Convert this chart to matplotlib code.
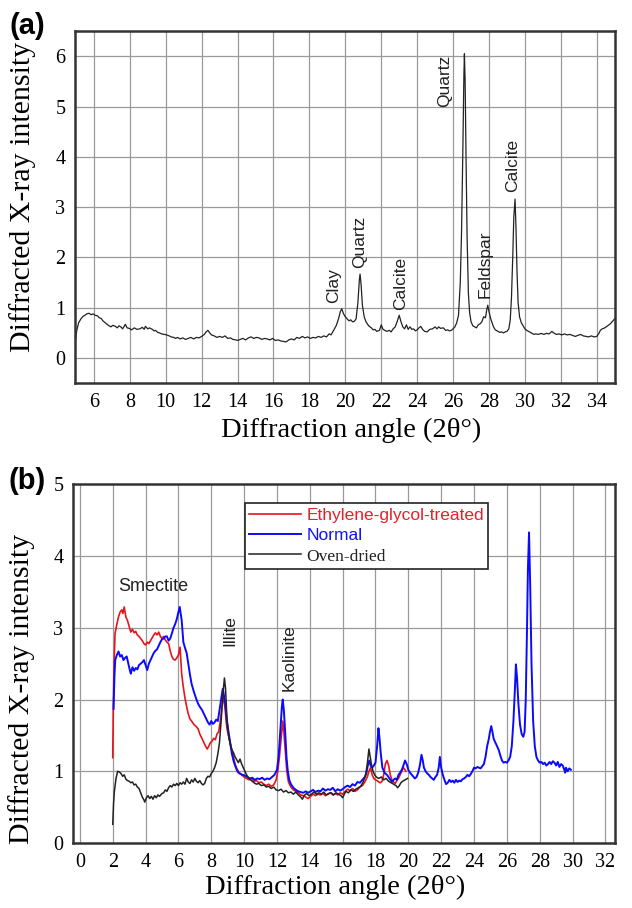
"""
XRD patterns: (a) bulk sample, (b) clay fraction under three treatments.
"""

import matplotlib
matplotlib.use("Agg")
import matplotlib.pyplot as plt

# (a) bulk powder pattern
bulk_angle = [
    4.95, 5.05, 5.15, 5.28, 5.4, 5.5, 5.62, 5.73, 5.85, 5.95, 6.07, 6.2, 6.3, 6.4, 6.5,
    6.6, 6.7, 6.85, 6.95, 7.05, 7.2, 7.3, 7.4, 7.5, 7.6, 7.75, 7.85, 7.97, 8.1, 8.25,
    8.4, 8.55, 8.7, 8.8, 8.87, 9.0, 9.1, 9.25, 9.35, 9.43, 9.55, 9.65, 9.77, 9.9, 10.05,
    10.2, 10.3, 10.45, 10.55, 10.66, 10.8, 10.95, 11.1, 11.25, 11.4, 11.56, 11.7, 11.85,
    12.0, 12.15, 12.25, 12.35, 12.45, 12.55, 12.7, 12.85, 13.0, 13.15, 13.3, 13.45, 13.6,
    13.75, 13.9, 14.0, 14.15, 14.3, 14.45, 14.6, 14.75, 14.9, 15.05, 15.2, 15.35, 15.5,
    15.65, 15.8, 15.95, 16.1, 16.27, 16.4, 16.55, 16.7, 16.85, 17.0, 17.15, 17.3, 17.45,
    17.6, 17.75, 17.9, 18.05, 18.2, 18.35, 18.5, 18.65, 18.8, 18.95, 19.1, 19.2, 19.35,
    19.5, 19.62, 19.72, 19.8, 19.9, 20.0, 20.1, 20.2, 20.3, 20.4, 20.5, 20.6, 20.7, 20.78,
    20.82, 20.88, 20.95, 21.05, 21.15, 21.3, 21.45, 21.55, 21.65, 21.75, 21.9, 22.0, 22.1,
    22.2, 22.3, 22.45, 22.55, 22.66, 22.78, 22.9, 23.0, 23.1, 23.2, 23.3, 23.4, 23.5, 23.6,
    23.7, 23.8, 23.9, 24.0, 24.1, 24.2, 24.3, 24.42, 24.56, 24.7, 24.85, 25.0, 25.1, 25.2,
    25.3, 25.46, 25.58, 25.7, 25.8, 25.9, 26.0, 26.1, 26.2, 26.3, 26.4, 26.47, 26.55, 26.6,
    26.63, 26.67, 26.72, 26.78, 26.85, 26.92, 27.0, 27.1, 27.2, 27.3, 27.4, 27.5, 27.6,
    27.7, 27.8, 27.87, 27.93, 28.0, 28.08, 28.15, 28.25, 28.35, 28.5, 28.6, 28.7, 28.8,
    28.9, 29.0, 29.1, 29.18, 29.25, 29.32, 29.38, 29.45, 29.5, 29.56, 29.62, 29.7, 29.8,
    29.9, 30.0, 30.1, 30.2, 30.35, 30.5, 30.6, 30.75, 30.9, 31.05, 31.2, 31.35, 31.5, 31.6,
    31.75, 31.9, 32.05, 32.2, 32.35, 32.5, 32.65, 32.8, 32.95, 33.1, 33.25, 33.4, 33.55,
    33.7, 33.85, 34.0, 34.1, 34.2, 34.3, 34.45, 34.6, 34.75, 34.9, 35.0,
]
bulk_intensity = [
    0.29, 0.55, 0.70, 0.78, 0.83, 0.85, 0.88, 0.89, 0.86, 0.88, 0.85, 0.84, 0.80, 0.79, 0.74,
    0.71, 0.68, 0.64, 0.62, 0.65, 0.63, 0.60, 0.64, 0.62, 0.58, 0.67, 0.60, 0.59, 0.56, 0.60,
    0.57, 0.58, 0.61, 0.57, 0.63, 0.58, 0.60, 0.57, 0.54, 0.55, 0.51, 0.50, 0.48, 0.47, 0.46,
    0.44, 0.42, 0.41, 0.39, 0.41, 0.38, 0.40, 0.37, 0.39, 0.41, 0.38, 0.41, 0.40,
    0.43, 0.47, 0.52, 0.55, 0.50, 0.46, 0.44, 0.41, 0.43, 0.41, 0.44, 0.39, 0.40,
    0.37, 0.36, 0.35, 0.37, 0.39, 0.36, 0.40, 0.42, 0.39, 0.41, 0.40, 0.37, 0.39,
    0.38, 0.36, 0.39, 0.35, 0.36, 0.34, 0.33, 0.32, 0.36, 0.38, 0.36, 0.41, 0.39,
    0.43, 0.40, 0.42, 0.39, 0.41, 0.40, 0.43, 0.41, 0.44, 0.42, 0.48, 0.46, 0.55,
    0.65, 0.78, 0.92, 0.98, 0.88, 0.82, 0.78, 0.74, 0.76, 0.72, 0.73, 0.78, 1.10, 1.55,
    1.67, 1.45, 1.05, 0.82, 0.72, 0.64, 0.60, 0.56, 0.57, 0.53, 0.55, 0.66, 0.57,
    0.55, 0.53, 0.55, 0.52, 0.58, 0.62, 0.74, 0.85, 0.72, 0.62, 0.58, 0.66, 0.57, 0.62,
    0.57, 0.58, 0.54, 0.56, 0.60, 0.63, 0.57, 0.53, 0.52, 0.57, 0.58, 0.62, 0.58, 0.62,
    0.59, 0.60, 0.55, 0.56, 0.54, 0.55, 0.58, 0.62, 0.70, 0.85, 1.5, 2.5, 4.3, 5.6,
    6.05, 5.5, 4.0, 2.4, 1.3, 0.9, 0.72, 0.64, 0.62, 0.60, 0.66, 0.68, 0.72,
    0.82, 0.80, 0.95, 1.05, 0.92, 0.80, 0.72, 0.62, 0.56, 0.53, 0.51, 0.52, 0.50,
    0.52, 0.53, 0.58, 0.75, 1.2, 2.0, 2.8, 3.16, 2.6, 1.7, 1.1, 0.82, 0.70,
    0.64, 0.58, 0.55, 0.53, 0.50, 0.47, 0.48, 0.47, 0.49, 0.47, 0.49, 0.48, 0.53, 0.50,
    0.47, 0.48, 0.46, 0.48, 0.46, 0.47, 0.45, 0.43, 0.45, 0.47, 0.44, 0.43, 0.42,
    0.44, 0.42, 0.43, 0.48, 0.55, 0.58, 0.60, 0.64, 0.68, 0.74, 0.78,
]
bulk_labels = ["Clay", "Quartz", "Calcite", "Quartz", "Feldspar", "Calcite"]
bulk_label_x = [19.36, 20.82, 23.06, 25.55, 27.77, 29.3]
bulk_label_y = [1.1, 1.79, 0.95, 5.0, 1.2, 3.3]

# (b) clay fraction, three treatments
glycol_angle = [
    2.0, 2.03, 2.08, 2.14, 2.25, 2.35, 2.45, 2.55, 2.62, 2.7, 2.8, 2.9, 3.0, 3.1, 3.2,
    3.3, 3.4, 3.5, 3.6, 3.7, 3.8, 3.9, 4.0, 4.1, 4.2, 4.3, 4.4, 4.5, 4.6, 4.7, 4.8, 4.9,
    5.0, 5.1, 5.2, 5.3, 5.4, 5.5, 5.6, 5.7, 5.8, 5.9, 6.0, 6.1, 6.15, 6.2, 6.3, 6.4, 6.5,
    6.6, 6.7, 6.8, 6.95, 7.1, 7.2, 7.3, 7.45, 7.55, 7.65, 7.75, 7.85, 7.95, 8.05, 8.15,
    8.25, 8.35, 8.45, 8.55, 8.65, 8.75, 8.85, 8.95, 9.05, 9.15, 9.25, 9.35, 9.45, 9.55,
    9.7, 9.85, 10.0, 10.15, 10.3, 10.45, 10.6, 10.75, 10.9, 11.05, 11.2, 11.35, 11.5,
    11.65, 11.8, 11.95, 12.05, 12.15, 12.25, 12.35, 12.42, 12.5, 12.6, 12.7, 12.85, 13.0,
    13.15, 13.3, 13.45, 13.6, 13.75, 13.9, 14.05, 14.2, 14.35, 14.5, 14.65, 14.8, 14.95,
    15.1, 15.25, 15.4, 15.55, 15.7, 15.85, 16.0, 16.15, 16.3, 16.45, 16.6, 16.75, 16.9,
    17.05, 17.2, 17.35, 17.5, 17.6, 17.7, 17.8, 17.9, 18.0, 18.1, 18.2, 18.3, 18.4, 18.5,
    18.6, 18.7, 18.8, 18.9, 19.0, 19.1, 19.2, 19.3, 19.4, 19.5, 19.6, 19.7, 19.8, 19.85,
]
glycol_intensity = [
    1.19, 1.85, 2.5, 2.92, 3.05, 3.15, 3.22, 3.25, 3.20, 3.29, 3.15, 3.10, 3.02, 2.94, 2.98,
    2.93, 2.95, 2.90, 2.88, 2.85, 2.82, 2.78, 2.76, 2.80, 2.78, 2.82, 2.86, 2.90, 2.93, 2.90,
    2.94, 2.88, 2.85, 2.88, 2.83, 2.80, 2.78, 2.68, 2.60, 2.56, 2.55, 2.58, 2.62, 2.73, 2.55,
    2.35, 2.17, 2.02, 1.90, 1.80, 1.73, 1.70, 1.65, 1.62, 1.59, 1.52, 1.45, 1.40, 1.35, 1.31,
    1.35, 1.40, 1.42, 1.46, 1.44, 1.52, 1.55, 1.70, 1.90, 2.05, 1.85, 1.60, 1.50, 1.40, 1.30,
    1.20, 1.10, 1.04, 0.98, 0.95, 0.92, 0.90, 0.88, 0.90, 0.86, 0.87, 0.84, 0.85, 0.82, 0.80,
    0.82, 0.79, 0.81, 0.88, 1.00, 1.20, 1.45, 1.70, 1.55, 1.30, 1.00, 0.85, 0.78, 0.74,
    0.72, 0.70, 0.67, 0.66, 0.64, 0.62, 0.65, 0.68, 0.66, 0.68, 0.67, 0.69, 0.66,
    0.68, 0.70, 0.67, 0.69, 0.67, 0.70, 0.68, 0.72, 0.75, 0.73, 0.76, 0.72, 0.74,
    0.78, 0.80, 0.85, 0.92, 1.00, 1.05, 0.95, 0.90, 0.88, 0.87, 0.85, 0.84, 0.86, 0.95,
    1.10, 1.15, 1.08, 0.95, 0.88, 0.85, 0.83, 0.87, 0.90, 0.95, 1.00, 1.05, 1.02, 1.00,
]

normal_angle = [
    2.05, 2.1, 2.15, 2.25, 2.35, 2.45, 2.55, 2.65, 2.75, 2.85, 2.95, 3.05, 3.1, 3.2, 3.3,
    3.4, 3.5, 3.6, 3.7, 3.8, 3.9, 4.0, 4.1, 4.2, 4.3, 4.4, 4.5, 4.6, 4.7, 4.8, 4.9, 5.0,
    5.1, 5.2, 5.3, 5.4, 5.5, 5.6, 5.7, 5.8, 5.9, 6.0, 6.08, 6.15, 6.2, 6.25, 6.3, 6.4, 6.5,
    6.6, 6.7, 6.8, 6.95, 7.1, 7.2, 7.3, 7.45, 7.55, 7.7, 7.8, 7.9, 8.0, 8.1, 8.2, 8.3, 8.4,
    8.5, 8.6, 8.7, 8.78, 8.85, 8.95, 9.05, 9.15, 9.25, 9.35, 9.45, 9.55, 9.65, 9.8, 9.9,
    10.05, 10.2, 10.35, 10.5, 10.65, 10.8, 10.95, 11.1, 11.25, 11.4, 11.55, 11.7, 11.85,
    12.0, 12.1, 12.2, 12.3, 12.35, 12.42, 12.5, 12.58, 12.66, 12.75, 12.85, 13.0, 13.15,
    13.3, 13.45, 13.6, 13.75, 13.9, 14.05, 14.2, 14.35, 14.5, 14.65, 14.8, 14.95, 15.1,
    15.25, 15.4, 15.55, 15.7, 15.85, 16.0, 16.15, 16.3, 16.45, 16.6, 16.75, 16.9, 17.05,
    17.2, 17.35, 17.45, 17.55, 17.62, 17.7, 17.8, 17.9, 18.0, 18.1, 18.18, 18.25, 18.32,
    18.42, 18.55, 18.7, 18.85, 19.0, 19.1, 19.2, 19.3, 19.4, 19.5, 19.6, 19.7, 19.8, 19.9,
    20.0, 20.1, 20.25, 20.4, 20.5, 20.6, 20.7, 20.8, 20.88, 20.95, 21.05, 21.15, 21.25,
    21.35, 21.45, 21.55, 21.65, 21.75, 21.85, 21.92, 22.0, 22.1, 22.2, 22.3, 22.4, 22.5,
    22.6, 22.7, 22.8, 22.9, 23.0, 23.1, 23.2, 23.3, 23.4, 23.5, 23.6, 23.7, 23.8, 23.9,
    24.0, 24.1, 24.2, 24.3, 24.4, 24.5, 24.6, 24.7, 24.8, 24.9, 24.97, 25.05, 25.12, 25.2,
    25.3, 25.4, 25.5, 25.6, 25.7, 25.8, 25.9, 26.0, 26.1, 26.2, 26.3, 26.4, 26.5, 26.55,
    26.62, 26.7, 26.8, 26.9, 27.0, 27.08, 27.15, 27.22, 27.28, 27.35, 27.42, 27.5, 27.6,
    27.7, 27.8, 27.9, 28.0, 28.1, 28.2, 28.3, 28.4, 28.5, 28.6, 28.7, 28.8, 28.9, 29.0,
    29.1, 29.2, 29.3, 29.4, 29.5, 29.55, 29.6, 29.7, 29.8, 29.9,
]
normal_intensity = [
    1.87, 2.30, 2.55, 2.62, 2.67, 2.60, 2.62, 2.55, 2.58, 2.60, 2.50, 2.40, 2.36, 2.45, 2.40,
    2.44, 2.42, 2.48, 2.50, 2.52, 2.55, 2.48, 2.41, 2.50, 2.55, 2.60, 2.65, 2.68, 2.70, 2.75,
    2.80, 2.84, 2.85, 2.88, 2.88, 2.82, 2.85, 2.92, 3.00, 3.05, 3.12, 3.22, 3.29, 3.18, 3.10,
    2.95, 2.80, 2.72, 2.65, 2.50, 2.35, 2.22, 2.10, 2.00, 1.94, 1.90, 1.85, 1.80, 1.73, 1.68,
    1.65, 1.70, 1.66, 1.68, 1.72, 1.70, 1.85, 2.00, 2.15, 2.05, 1.95, 1.70, 1.55, 1.40, 1.25,
    1.15, 1.08, 1.02, 0.98, 0.96, 0.95, 0.94, 0.92, 0.90, 0.91, 0.88, 0.90, 0.89, 0.91, 0.88,
    0.90, 0.89, 0.92, 0.95, 1.02, 1.20, 1.55, 1.90, 2.00, 1.85, 1.55, 1.20, 1.00, 0.88,
    0.82, 0.77, 0.74, 0.72, 0.71, 0.70, 0.72, 0.70, 0.72, 0.74, 0.71, 0.73, 0.72, 0.76,
    0.73, 0.75, 0.74, 0.77, 0.72, 0.75, 0.73, 0.75, 0.78, 0.80, 0.78, 0.82, 0.80, 0.85,
    0.84, 0.88, 0.92, 0.98, 1.10, 1.15, 1.08, 1.05, 1.08, 1.12, 1.35, 1.60, 1.45, 1.25,
    1.05, 0.98, 0.95, 0.90, 0.85, 0.88, 0.90, 0.88, 0.95, 0.98, 1.02, 1.08, 1.15, 1.10,
    1.02, 0.98, 0.94, 0.90, 0.92, 0.98, 1.08, 1.23, 1.15, 1.05, 1.00, 0.97, 0.95,
    0.92, 0.90, 0.88, 0.92, 0.95, 1.05, 1.20, 1.05, 0.95, 0.88, 0.82, 0.84, 0.88,
    0.85, 0.87, 0.84, 0.88, 0.85, 0.87, 0.86, 0.89, 0.90, 0.92, 0.95, 0.93, 0.96, 1.00,
    1.05, 1.04, 1.06, 1.05, 1.04, 1.07, 1.10, 1.20, 1.35, 1.45, 1.55, 1.63, 1.55, 1.45,
    1.40, 1.35, 1.30, 1.22, 1.15, 1.12, 1.13, 1.12, 1.15, 1.20, 1.35, 1.70, 2.20, 2.49,
    2.30, 1.95, 1.65, 1.52, 1.48, 1.55, 2.00, 2.90, 3.80, 4.33, 3.60, 2.50, 1.70,
    1.35, 1.20, 1.15, 1.12, 1.13, 1.10, 1.12, 1.08, 1.10, 1.13, 1.10, 1.14, 1.12, 1.08,
    1.13, 1.06, 1.10, 1.08, 1.02, 0.98, 1.05, 1.00, 1.04, 1.02,
]

oven_angle = [
    2.0, 2.05, 2.1, 2.2, 2.3, 2.4, 2.5, 2.6, 2.7, 2.8, 2.9, 3.0, 3.1, 3.2, 3.3, 3.4, 3.5,
    3.6, 3.7, 3.8, 3.9, 3.95, 4.05, 4.15, 4.25, 4.35, 4.45, 4.55, 4.65, 4.75, 4.85, 5.0,
    5.1, 5.2, 5.3, 5.4, 5.5, 5.6, 5.7, 5.8, 5.9, 6.0, 6.1, 6.2, 6.3, 6.4, 6.5, 6.6, 6.7,
    6.8, 6.9, 7.0, 7.1, 7.2, 7.3, 7.4, 7.5, 7.6, 7.7, 7.8, 7.9, 8.0, 8.1, 8.2, 8.3, 8.4,
    8.5, 8.6, 8.7, 8.8, 8.87, 8.95, 9.05, 9.15, 9.25, 9.35, 9.45, 9.55, 9.65, 9.75, 9.85,
    9.95, 10.05, 10.15, 10.3, 10.45, 10.6, 10.75, 10.9, 11.05, 11.2, 11.35, 11.5, 11.65,
    11.8, 11.95, 12.1, 12.25, 12.4, 12.55, 12.7, 12.85, 13.0, 13.15, 13.3, 13.45, 13.55,
    13.65, 13.8, 13.95, 14.1, 14.25, 14.4, 14.55, 14.7, 14.85, 15.0, 15.15, 15.3, 15.45,
    15.6, 15.75, 15.9, 16.0, 16.1, 16.2, 16.35, 16.5, 16.65, 16.8, 16.95, 17.1, 17.25,
    17.4, 17.5, 17.6, 17.68, 17.75, 17.85, 17.95, 18.05, 18.2, 18.35, 18.5, 18.65, 18.8,
    18.95, 19.1, 19.25, 19.35, 19.45, 19.55, 19.65, 19.8, 19.95,
]
oven_intensity = [
    0.26, 0.55, 0.72, 0.90, 1.00, 0.99, 0.97, 0.93, 0.95, 0.89, 0.87, 0.86, 0.84, 0.85, 0.81,
    0.82, 0.78, 0.76, 0.70, 0.64, 0.60, 0.57, 0.63, 0.66, 0.62, 0.65, 0.61, 0.66, 0.63, 0.67,
    0.65, 0.69, 0.70, 0.74, 0.72, 0.77, 0.80, 0.78, 0.82, 0.80, 0.83, 0.80, 0.84, 0.82, 0.85,
    0.82, 0.90, 0.85, 0.83, 0.88, 0.85, 0.90, 0.86, 0.84, 0.87, 0.83, 0.81, 0.83, 0.90, 0.93,
    0.92, 0.97, 1.00, 1.05, 1.12, 1.24, 1.40, 1.70, 2.05, 2.30, 2.15, 1.75, 1.50, 1.38, 1.30,
    1.26, 1.20, 1.16, 1.12, 1.17, 1.10, 1.05, 1.00, 0.95, 0.90, 0.87, 0.84, 0.82, 0.83, 0.80,
    0.81, 0.78, 0.79, 0.76, 0.78, 0.74, 0.73, 0.75, 0.71, 0.73, 0.70, 0.71, 0.68, 0.71,
    0.67, 0.64, 0.61, 0.66, 0.69, 0.66, 0.68, 0.71, 0.68, 0.70, 0.68, 0.71, 0.67, 0.69,
    0.70, 0.67, 0.70, 0.68, 0.66, 0.63, 0.68, 0.72, 0.70, 0.74, 0.72, 0.75, 0.77, 0.79,
    0.85, 0.95, 1.10, 1.31, 1.20, 1.10, 1.00, 0.95, 0.92, 0.90, 0.92, 0.88, 0.90, 0.86,
    0.84, 0.82, 0.80, 0.77, 0.80, 0.84, 0.86, 0.88, 0.90,
]
clay_labels = ["Smectite", "Illite", "Kaolinite"]
clay_label_x = [4.44, 9.15, 12.75]
clay_label_y = [3.57, 2.74, 2.12]

SERIF = ["Liberation Serif", "DejaVu Serif"]
SANS = ["Liberation Sans", "DejaVu Sans"]


def style_axes(ax):
    """Square grid, heavy frame, no tick marks."""
    ax.grid(True, color="#9a9a9a", linewidth=0.9)
    ax.set_axisbelow(True)
    for spine in ax.spines.values():
        spine.set_linewidth(1.8)
        spine.set_color("#333333")
    ax.tick_params(length=0, pad=7, labelsize=14.5)
    for lab in ax.get_xticklabels() + ax.get_yticklabels():
        lab.set_family(SERIF)


fig = plt.figure(figsize=(6.32, 9.08), dpi=100)

# ---- (a) bulk pattern ----
ax1 = fig.add_axes([0.1187, 0.578, 0.854, 0.3877])
ax1.plot(bulk_angle, bulk_intensity, color="#222222", linewidth=0.9)
ax1.set_xlim(4.95, 35.0)
ax1.set_ylim(-0.5, 6.5)
ax1.set_xticks(range(6, 35, 2))
ax1.set_yticks(range(0, 7))
style_axes(ax1)
for text, x, y in zip(bulk_labels, bulk_label_x, bulk_label_y):
    ax1.text(x, y, text, rotation=90, ha="center", va="bottom",
             family=SANS, fontsize=12.5, color="#222222")
ax1.set_xlabel("Diffraction angle (2θ°)", family=SERIF, fontsize=20.5, va="center")
ax1.xaxis.set_label_coords(0.511, -0.134)
ax1.set_ylabel("Diffracted X-ray intensity", family=SERIF, fontsize=21.5, va="center")
ax1.yaxis.set_label_coords(-0.098, 0.53)
fig.text(0.043, 0.971, "(a)", family=SANS, fontweight="bold", fontsize=21,
         ha="center", va="center")

# ---- (b) clay fraction ----
ax2 = fig.add_axes([0.1155, 0.0716, 0.858, 0.395])
l_eg, = ax2.plot(glycol_angle, glycol_intensity, color="#e8141c", linewidth=1.2,
                 label="Ethylene-glycol-treated")
l_nm, = ax2.plot(normal_angle, normal_intensity, color="#0a0aff", linewidth=1.4,
                 label="Normal")
l_ov, = ax2.plot(oven_angle, oven_intensity, color="#222222", linewidth=1.1,
                 label="Oven-dried")
ax2.set_xlim(-0.42, 32.6)
ax2.set_ylim(0, 5)
ax2.set_xticks(range(0, 33, 2))
ax2.set_yticks(range(0, 6))
style_axes(ax2)
ax2.text(clay_label_x[0], clay_label_y[0], clay_labels[0], ha="center", va="center",
         family=SANS, fontsize=13, color="#222222")
for text, x, y in zip(clay_labels[1:], clay_label_x[1:], clay_label_y[1:]):
    ax2.text(x, y, text, rotation=90, ha="center", va="bottom",
             family=SANS, fontsize=12.5, color="#222222")

leg = ax2.legend(handles=[l_eg, l_nm, l_ov], loc="upper left",
                 bbox_to_anchor=(0.317, 0.947), fancybox=False, framealpha=1,
                 edgecolor="#222222", fontsize=12.5, handlelength=3.0,
                 handletextpad=0.3, borderpad=0.25, labelspacing=0.3,
                 borderaxespad=0)
leg.get_frame().set_linewidth(1.2)
for txt, col, fam in zip(leg.get_texts(), ["#e8202a", "#1010ff", "#222222"],
                         [SANS, SANS, SERIF]):
    txt.set_color(col)
    txt.set_family(fam)

ax2.set_xlabel("Diffraction angle (2θ°)", family=SERIF, fontsize=20.5, va="center")
ax2.xaxis.set_label_coords(0.483, -0.125)
ax2.set_ylabel("Diffracted X-ray intensity", family=SERIF, fontsize=21.5, va="center")
ax2.yaxis.set_label_coords(-0.095, 0.43)
fig.text(0.043, 0.47, "(b)", family=SANS, fontweight="bold", fontsize=21,
         ha="center", va="center")

fig.savefig("out.png", dpi=100)
